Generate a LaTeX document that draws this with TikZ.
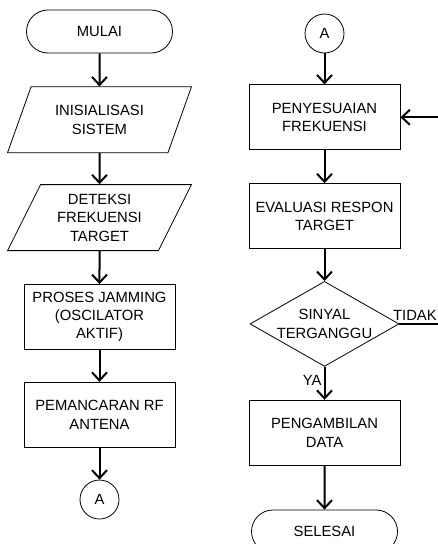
\documentclass[tikz,border=0pt]{standalone}
\usepackage{fontspec}
\setmainfont{Liberation Sans}
\usetikzlibrary{positioning,shapes.geometric,shapes.misc,arrows.meta}

\begin{document}
\begin{tikzpicture}
    [
        x = 1pt, y = 1pt,
        node distance = 32pt,
        every node/.append style = {font = \fontsize{14.8}{18.3}\selectfont, align = center, inner sep = 2pt},
        terminal/.style = {draw, line width = 0.8pt, rounded rectangle, minimum width = 150pt, minimum height = 43pt},
        io/.style = {draw, line width = 0.8pt, trapezium, trapezium left angle = 64, trapezium right angle = 116, trapezium stretches = true, minimum width = 184pt, minimum height = 66pt},
        process/.style = {draw, line width = 0.8pt, rectangle, minimum width = 151pt, minimum height = 65pt},
        decision/.style = {draw, line width = 0.8pt, diamond, aspect = 1.75, inner sep = 0pt, minimum width = 149pt, minimum height = 85pt},
        connector/.style = {draw, line width = 0.8pt, circle, minimum size = 39pt, inner sep = 0pt},
        flow/.style = {line width = 2pt, -{Straight Barb[length = 8pt, width = 15pt]}}]

    \useasboundingbox (0, 0) rectangle (438, -544);

    % kolom kiri
    \node [terminal] (mulai) at (99.5, -31.5) {MULAI};
    \node [io, below = 33pt of mulai] (inisialisasi) {INISIALISASI\\SISTEM};
    \node [io, below = 31pt of inisialisasi] (deteksi) {DETEKSI\\FREKUENSI\\TARGET};
    \node [process, below = 33pt of deteksi] (jamming) {PROSES JAMMING\\(OSCILATOR\\AKTIF)};
    \node [process, below = of jamming] (pemancaran) {PEMANCARAN RF\\ANTENA};
    \node [connector, below = of pemancaran] (akhirA) {A};

    % kolom kanan
    \node [connector] (awalA) at (324.5, -33.5) {A};
    \node [process, below = 31pt of awalA] (penyesuaian) {PENYESUAIAN\\FREKUENSI};
    \node [process, below = 33pt of penyesuaian] (evaluasi) {EVALUASI RESPON\\TARGET};
    \node [decision, below = of evaluasi] (sinyal) {SINYAL\\TERGANGGU};
    \node [process, below = 33pt of sinyal] (pengambilan) {PENGAMBILAN\\DATA};
    \node [terminal, below = 44pt of pengambilan] (selesai) {SELESAI};

    \coordinate (kanan) at (445, 0);
    \coordinate (tidak) at (sinyal.east -| kanan);
    \coordinate (balik) at (penyesuaian.east -| kanan);

    \draw [flow] (mulai) -- (inisialisasi);
    \draw [flow] (inisialisasi) -- (deteksi);
    \draw [flow] (deteksi) -- (jamming);
    \draw [flow] (jamming) -- (pemancaran);
    \draw [flow] (pemancaran) -- (akhirA);

    \draw [flow] (awalA) -- (penyesuaian);
    \draw [flow] (penyesuaian) -- (evaluasi);
    \draw [flow] (evaluasi) -- (sinyal);
    \draw [flow] (sinyal) -- node [left, pos = 0.4] {YA} (pengambilan);
    \draw [flow] (pengambilan) -- (selesai);
    \draw [flow] (sinyal.east) -- node [above, pos = 0.34] {TIDAK} (tidak) -- (balik) -- (penyesuaian);

\end{tikzpicture}
\end{document}
